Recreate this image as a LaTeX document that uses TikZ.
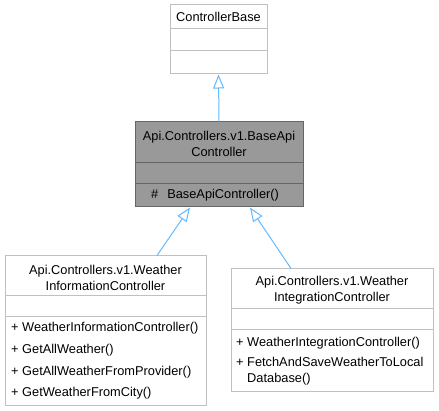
\documentclass[tikz,border=0pt]{standalone}
\usepackage{fontspec}
\setmainfont{Liberation Sans}
\usetikzlibrary{arrows.meta}
\usepackage{xcolor}
\definecolor{boxgray}{HTML}{C0C0C0}
\definecolor{darkline}{HTML}{666666}
\definecolor{basefill}{HTML}{999999}
\definecolor{steelblue}{HTML}{63B8FF}

\begin{document}
\begin{tikzpicture}[x=1pt,y=-1pt,>={Triangle[length=14pt,width=11pt,fill=white]}]
\tikzset{
    cls/.style={%
        draw=boxgray, line width=1pt, fill=white,
        rectangle, inner sep=0pt
        },
    clsbase/.style={%
        draw=darkline, line width=1pt, fill=basefill,
        rectangle, inner sep=0pt
        },
    txt/.style={inner sep=0pt, font=\fontsize{12.8}{16}\selectfont},
    inherit/.style={->, draw=steelblue, line width=1pt},
}
\useasboundingbox (0,0) rectangle (439,411);
%%%CLASSES
\node[cls, minimum width=97pt, minimum height=69pt] (ctrlbase) at (218.5,39.5) {};
\node[clsbase, minimum width=168pt, minimum height=85pt] (baseapi) at (219,164.5) {};
\node[cls, minimum width=201pt, minimum height=149pt] (infoctrl) at (105.5,330.5) {};
\node[cls, minimum width=202pt, minimum height=123pt] (integctrl) at (332,330.5) {};
%%%COMPARTMENTS
\draw[boxgray, line width=1pt] (170,29) -- (267,29) (170,51) -- (267,51);
\draw[darkline, line width=1pt] (135,163) -- (303,163) (135,184) -- (303,184);
\draw[boxgray, line width=1pt] (5,296) -- (206,296) (5,317) -- (206,317);
\draw[boxgray, line width=1pt] (231,309) -- (433,309) (231,330) -- (433,330);
%%%NAMES AND MEMBERS
\node[txt] (ctrlbasename) at (218.5,17) {ControllerBase};
\node[txt, align=center] (baseapiname) at (219,144) {Api.Controllers.v1.BaseApi\\Controller};
\node[txt, anchor=west] (baseapictor) at (151,195) {\#\hspace{9pt}BaseApiController()};
\node[txt, align=center] (infoctrlname) at (105.5,278) {Api.Controllers.v1.Weather\\InformationController};
\node[txt, anchor=west] (infoctor) at (11,328) {+ WeatherInformationController()};
\node[txt, anchor=west] (getall) at (11,350) {+ GetAllWeather()};
\node[txt, anchor=west] (getallprov) at (11,372) {+ GetAllWeatherFromProvider()};
\node[txt, anchor=west] (getcity) at (11,393) {+ GetWeatherFromCity()};
\node[txt, align=center] (integctrlname) at (332,290.5) {Api.Controllers.v1.Weather\\IntegrationController};
\node[txt, anchor=west] (integctor) at (236,343) {+ WeatherIntegrationController()};
\node[txt, anchor=west, align=left] (fetchsave) at (236,371) {+ FetchAndSaveWeatherToLocal\\\hphantom{+ }Database()};
%%%INHERITANCE
\draw[inherit] (baseapi.north) -- (ctrlbase.south);
\draw[inherit] ([xshift=51.5pt]infoctrl.north) -- ([xshift=-29pt]baseapi.south);
\draw[inherit] ([xshift=-41pt]integctrl.north) -- ([xshift=31pt]baseapi.south);
\end{tikzpicture}
\end{document}
